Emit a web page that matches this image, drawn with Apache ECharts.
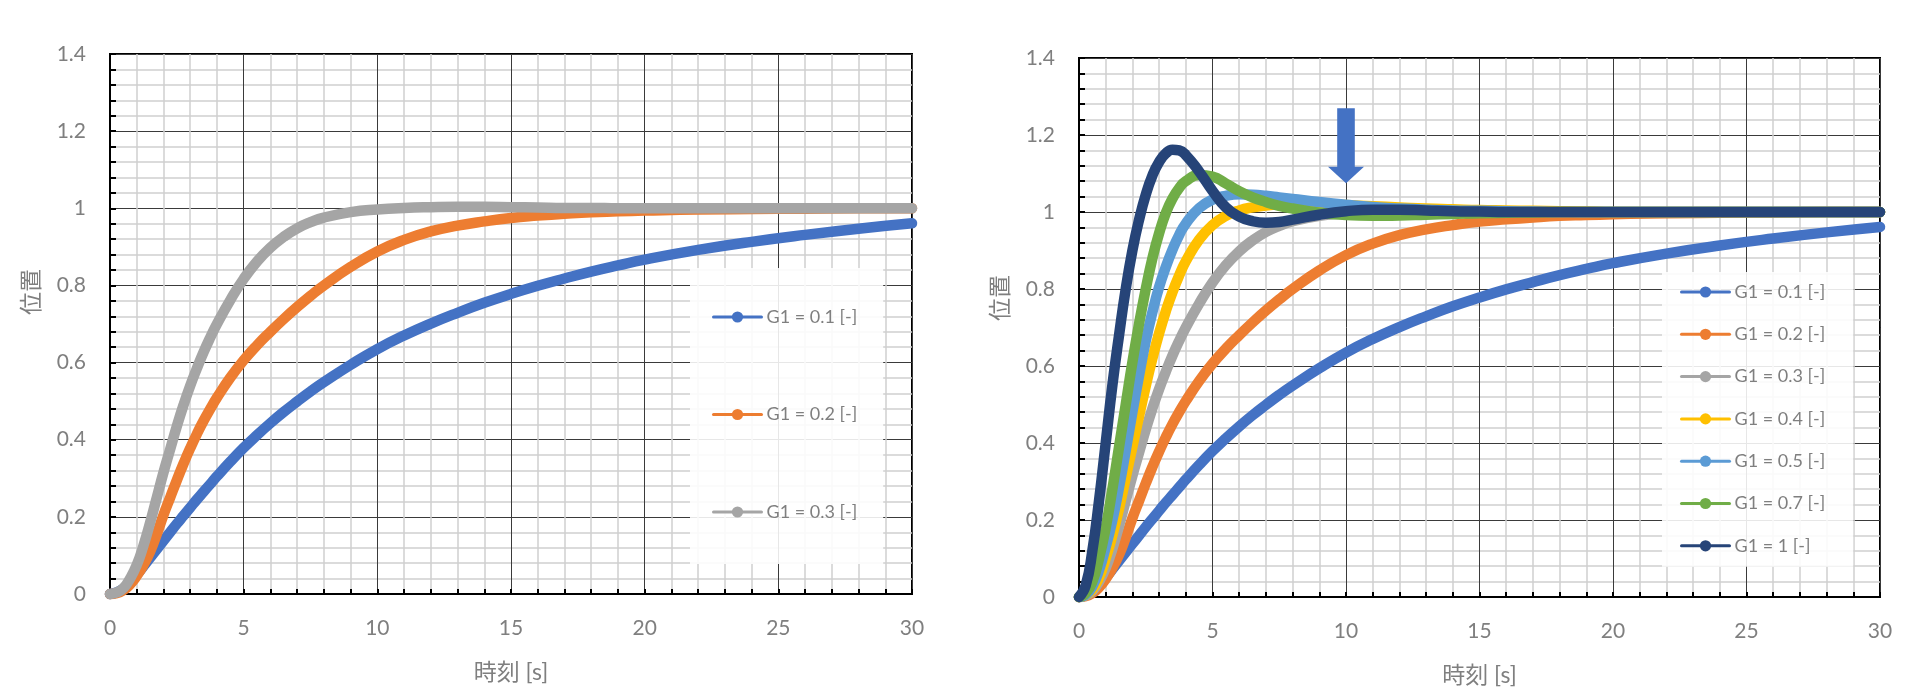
<!DOCTYPE html>
<html><head><meta charset="utf-8">
<script src="https://cdn.jsdelivr.net/npm/echarts@6/dist/echarts.min.js"></script>
<style>html,body{margin:0;padding:0;background:#fff}#c{width:1920px;height:699px}</style>
</head><body><div id="c"></div>
<script>
// ---- data ----
const times = [0,0.25,0.5,0.75,1,1.25,1.5,1.75,2,2.25,2.5,2.75,3,3.25,3.5,3.75,4,4.5,5,5.5,6,6.5,7,7.5,8,9,10,11,12,13,14,15,16,17,18,19,20,22,24,26,28,30];
const g01 = [0,0.004,0.014,0.03,0.05,0.072,0.094,0.116,0.138,0.16,0.182,0.203,0.224,0.245,0.265,0.285,0.305,0.343,0.379,0.412,0.443,0.472,0.499,0.525,0.549,0.594,0.635,0.67,0.701,0.729,0.755,0.778,0.799,0.818,0.836,0.852,0.867,0.892,0.913,0.931,0.947,0.961];
const g02 = [0,0.002,0.01,0.025,0.047,0.075,0.11,0.155,0.205,0.25,0.295,0.338,0.378,0.415,0.449,0.48,0.509,0.561,0.606,0.645,0.68,0.713,0.744,0.773,0.8,0.848,0.888,0.918,0.94,0.955,0.966,0.975,0.981,0.986,0.99,0.992,0.994,0.997,0.998,0.999,1.0,1.0];
const g03 = [0,0.004,0.015,0.04,0.075,0.125,0.185,0.25,0.315,0.375,0.435,0.49,0.54,0.585,0.627,0.665,0.7,0.762,0.817,0.862,0.898,0.926,0.948,0.964,0.976,0.99,0.997,1.001,1.003,1.004,1.004,1.003,1.002,1.001,1.001,1.0,1.0,1.0,1.0,1.0,1.0,1.0];
const g04 = [0,0.005,0.02,0.05,0.1,0.16,0.23,0.31,0.39,0.47,0.548,0.62,0.685,0.742,0.792,0.835,0.872,0.928,0.966,0.99,1.004,1.012,1.017,1.02,1.021,1.021,1.018,1.015,1.012,1.009,1.007,1.005,1.004,1.003,1.002,1.001,1.0,1.0,1.0,1.0,1.0,1.0];
const g05 = [0,0.006,0.028,0.07,0.13,0.2,0.285,0.38,0.48,0.575,0.665,0.74,0.805,0.857,0.902,0.94,0.97,1.01,1.032,1.042,1.046,1.045,1.042,1.038,1.034,1.026,1.019,1.013,1.009,1.006,1.004,1.003,1.002,1.001,1.0,1.0,1.0,1.0,1.0,1.0,1.0,1.0];
const g07 = [0,0.01,0.04,0.1,0.18,0.28,0.39,0.5,0.61,0.71,0.8,0.88,0.945,0.997,1.035,1.062,1.08,1.096,1.092,1.074,1.054,1.038,1.026,1.016,1.009,0.998,0.992,0.99,0.991,0.993,0.995,0.997,0.998,0.999,1.0,1.0,1.0,1.0,1.0,1.0,1.0,1.0];
const g10 = [0,0.03,0.12,0.25,0.4,0.55,0.68,0.8,0.9,0.98,1.045,1.095,1.13,1.152,1.162,1.16,1.148,1.105,1.055,1.012,0.988,0.976,0.972,0.974,0.98,0.993,1.002,1.006,1.006,1.004,1.002,1.001,1.0,1.0,1.0,1.0,1.0,1.0,1.0,1.0,1.0,1.0];

const names = ['G1 = 0.1 [-]','G1 = 0.2 [-]','G1 = 0.3 [-]','G1 = 0.4 [-]','G1 = 0.5 [-]','G1 = 0.7 [-]','G1 = 1 [-]'];
const colors = ['#4472C4','#ED7D31','#A5A5A5','#FFC000','#5B9BD5','#70AD47','#264478'];
const leftSet = [g01, g02, g03];
const rightSet = [g01, g02, g03, g04, g05, g07, g10];
const xMin = 0, xMax = 30, xStep = 5;
const yMin = 0, yMax = 1.4, yStep = 0.2;
const xTitle = '時刻 [s]';
const yTitle = '位置';
const arrowAt = [10, 1.172];

// ---- chart ----
const FONT = 'Lato, "Noto Sans CJK JP", sans-serif';
const GRAY = '#7f7f7f';

function mkX(gi){
  return {gridIndex:gi,type:'value',min:xMin,max:xMax,interval:xStep,
    axisLine:{show:true,onZero:false,lineStyle:{color:'#000',width:2}},
    axisTick:{show:true,inside:true,length:5,lineStyle:{color:'#000',width:2}},
    minorTick:{show:true,splitNumber:5,length:5,lineStyle:{color:'#000',width:2}},
    splitLine:{show:true,lineStyle:{color:'#3a3a3a',width:1}},
    minorSplitLine:{show:true,lineStyle:{color:'#cfcfcf',width:1.5}},
    axisLabel:{margin:24,fontSize:21,color:GRAY,fontFamily:FONT},
    name:xTitle,nameLocation:'middle',nameGap:67,
    nameTextStyle:{fontSize:23,color:GRAY,fontFamily:FONT}};
}
function mkY(gi, pad){
  return {gridIndex:gi,type:'value',min:yMin,max:yMax,interval:yStep,
    axisLine:{show:true,onZero:false,lineStyle:{color:'#000',width:2}},
    axisTick:{show:true,inside:true,length:6,lineStyle:{color:'#000',width:2}},
    minorTick:{show:true,splitNumber:5,length:6,lineStyle:{color:'#000',width:2}},
    splitLine:{show:true,lineStyle:{color:'#3a3a3a',width:1}},
    minorSplitLine:{show:true,lineStyle:{color:'#cfcfcf',width:1.5}},
    axisLabel:{margin:24,fontSize:21,color:GRAY,fontFamily:FONT},
    name:yTitle,nameLocation:'middle',nameGap:67,
    nameTextStyle:{fontSize:23,color:GRAY,fontFamily:FONT,padding:pad}};
}
function mkS(i, vals, gi){
  return {type:'line',name:names[i],xAxisIndex:gi,yAxisIndex:gi,
    data:times.map((t,k)=>[t,vals[k]]),
    smooth:0.5,showSymbol:false,symbol:'circle',clip:false,
    lineStyle:{width:10.5,color:colors[i],cap:'round',join:'round'},
    itemStyle:{color:colors[i]},emphasis:{disabled:true},animation:false};
}
const series = [];
leftSet.forEach((v,i)=>series.push(mkS(i,v,0)));
rightSet.forEach((v,i)=>series.push(mkS(i,v,1)));
series[series.length-1].markPoint = {
  symbol:'path://M9.2,0L26.8,0L26.8,58.4L36,58.4L18,75L0,58.4L9.2,58.4Z',
  symbolSize:[36,75],symbolKeepAspect:false,silent:true,animation:false,
  itemStyle:{color:'#4472C4'},label:{show:false},data:[{coord:arrowAt}]};

const legendBase = {orient:'vertical',itemWidth:48,itemHeight:14,selectedMode:false,
  backgroundColor:'rgba(255,255,255,0.88)',
  textStyle:{fontFamily:FONT,fontSize:18,color:GRAY},
  lineStyle:{width:3},itemStyle:{borderWidth:0}};

const option = {
  backgroundColor:'#fff',animation:false,
  grid:[
    {left:110,top:54,width:802,height:540,show:true,borderColor:'#000',borderWidth:2,backgroundColor:'transparent'},
    {left:1079,top:58,width:801,height:539,show:true,borderColor:'#000',borderWidth:2,backgroundColor:'transparent'}
  ],
  xAxis:[mkX(0),mkX(1)],
  yAxis:[mkY(0,[0,0,0,64]),mkY(1,[0,0,0,59])],
  legend:[
    Object.assign({},legendBase,{data:names.slice(0,3),left:690,top:268,itemGap:79.5,padding:[40,26,43,22]}),
    Object.assign({},legendBase,{data:names.slice(0,7),left:1662,top:272,itemGap:24.3,padding:[11,28,12,18]})
  ],
  series:series
};
const chart = echarts.init(document.getElementById('c'),null,{renderer:'canvas'});
chart.setOption(option);
</script>
</body></html>
